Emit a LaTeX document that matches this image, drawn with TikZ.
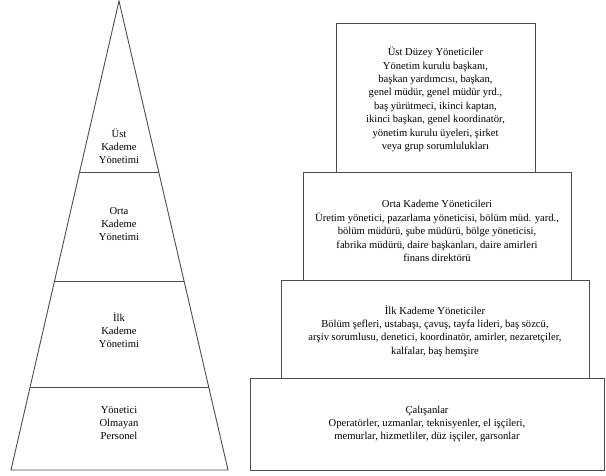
\documentclass[tikz,border=0pt]{standalone}
\usepackage{fontspec}
\setmainfont{Liberation Serif}
\usepackage{tikz}
\usetikzlibrary{positioning, calc}

\begin{document}
\begin{tikzpicture}[
  x=1pt, y=-1pt,
  every node/.style={font=\fontsize{10.6}{13.4}\selectfont, align=center, inner sep=0pt},
  edge/.style={draw=black!70, line width=0.9pt},
  level/.style={edge, fill=white},
  tier/.style={font=\fontsize{10.6}{13}\selectfont}
]
\useasboundingbox (0,0) rectangle (606,475);

% Left: pyramid
\coordinate (apex) at (119,1);
\coordinate (bl) at (11,470);
\coordinate (br) at (228,470);
\draw[edge] (apex) -- (bl) -- (br) -- cycle;

\coordinate (a1) at ($(apex)!0.365!(bl)$);
\coordinate (b1) at ($(apex)!0.365!(br)$);
\coordinate (a2) at ($(apex)!0.597!(bl)$);
\coordinate (b2) at ($(apex)!0.597!(br)$);
\coordinate (a3) at ($(apex)!0.825!(bl)$);
\coordinate (b3) at ($(apex)!0.825!(br)$);
\draw[edge] (a1) -- (b1);
\draw[edge] (a2) -- (b2);
\draw[edge] (a3) -- (b3);

\node[tier] (ust) at (119,146) {Üst\\Kademe\\Yönetimi};
\node[tier] (orta) at (119,224) {Orta\\Kademe\\Yönetimi};
\node[tier] (ilk) at (119,330) {İlk\\Kademe\\Yönetimi};
\node[tier] (per) at (119,423) {Yönetici\\Olmayan\\Personel};

% Right: stacked boxes
\node[level, minimum width=199, minimum height=149] (top) at (435.5,97.5) {};
\node[level, minimum width=268, minimum height=108] (mid) at (437,226) {};
\node[level, minimum width=308, minimum height=98] (low) at (435,329) {};
\node[level, minimum width=354, minimum height=92] (work) at (427,424) {};

% Box texts
\node (toptext) at ([yshift=-2]top.center) {Üst Düzey Yöneticiler\\Yönetim kurulu başkanı,\\başkan yardımcısı, başkan,\\genel müdür, genel müdür yrd.,\\baş yürütmeci, ikinci kaptan,\\ikinci başkan, genel koordinatör,\\yönetim kurulu üyeleri, şirket\\veya grup sorumlulukları};
\node (midtext) at ([yshift=-5]mid.center) {Orta Kademe Yöneticileri\\Üretim yönetici, pazarlama yöneticisi, bölüm müd. yard.,\\bölüm müdürü, şube müdürü, bölge yöneticisi,\\fabrika müdürü, daire başkanları, daire amirleri\\finans direktörü};
\node (lowtext) at ([yshift=-2]low.center) {İlk Kademe Yöneticiler\\Bölüm şefleri, ustabaşı, çavuş, tayfa lideri, baş sözcü,\\arşiv sorumlusu, denetici, koordinatör, amirler, nezaretçiler,\\kalfalar, baş hemşire};
\node (worktext) at (work.center) {Çalışanlar\\Operatörler, uzmanlar, teknisyenler, el işçileri,\\memurlar, hizmetliler, düz işçiler, garsonlar};

\end{tikzpicture}
\end{document}
